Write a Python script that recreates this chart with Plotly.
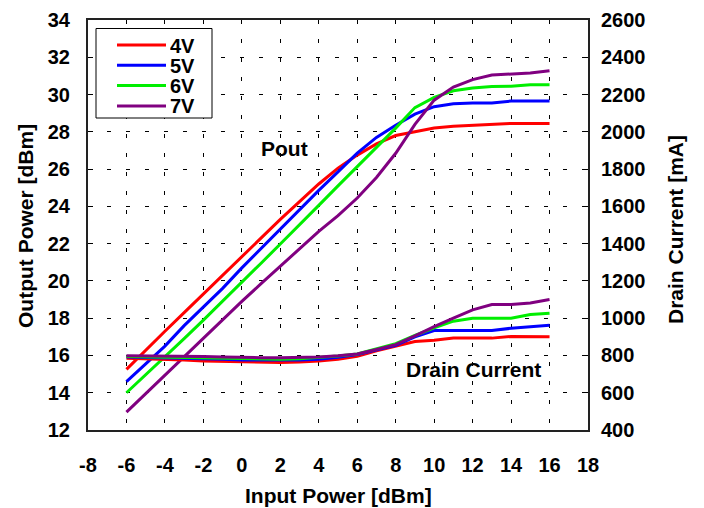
import plotly.graph_objects as go

pin = [-6, -5, -4, -3, -2, -1, 0, 1, 2, 3, 4, 5, 6, 7, 8, 9, 10, 11, 12, 13, 14, 15, 16]

pout_4v = [15.25, 16.3, 17.3, 18.3, 19.3, 20.35, 21.35, 22.35, 23.3, 24.25, 25.2, 26.05, 26.75, 27.35, 27.8, 28.0, 28.2, 28.3, 28.35, 28.4, 28.45, 28.45, 28.45]
pout_5v = [14.6, 15.55, 16.5, 17.6, 18.6, 19.6, 20.7, 21.75, 22.8, 23.85, 24.86, 25.85, 26.86, 27.7, 28.35, 28.95, 29.35, 29.5, 29.55, 29.55, 29.65, 29.65, 29.65]
pout_6v = [14.0, 14.95, 15.95, 16.9, 17.9, 18.9, 19.9, 20.95, 21.98, 23.0, 24.05, 25.1, 26.12, 27.15, 28.2, 29.3, 29.85, 30.2, 30.35, 30.43, 30.45, 30.52, 30.52]
pout_7v = [12.96, 13.95, 14.96, 15.95, 16.93, 17.9, 18.9, 19.85, 20.8, 21.75, 22.66, 23.5, 24.45, 25.55, 26.85, 28.4, 29.7, 30.4, 30.8, 31.05, 31.1, 31.15, 31.28]

id_4v = [785, 783, 780, 775, 770, 767, 764, 762, 762, 765, 770, 780, 795, 825, 850, 875, 882, 893, 893, 893, 902, 902, 900]
id_5v = [792, 790, 788, 785, 782, 779, 776, 775, 775, 776, 780, 790, 805, 830, 855, 900, 934, 934, 934, 934, 946, 955, 962]
id_6v = [795, 793, 791, 789, 786, 783, 780, 779, 780, 782, 788, 797, 808, 835, 863, 907, 948, 984, 1000, 1000, 1000, 1020, 1027]
id_7v = [798, 798, 797, 796, 795, 792, 789, 788, 788, 789, 792, 798, 808, 832, 858, 905, 955, 1000, 1045, 1073, 1073, 1082, 1100]

names = ["4V", "5V", "6V", "7V"]
colors = ["#ff0000", "#0000ff", "#00ee00", "#800080"]

x_ticks = list(range(-8, 19, 2))
y_ticks = list(range(12, 35, 2))
y2_ticks = list(range(400, 2601, 200))

FONT = "Liberation Sans, Arial, sans-serif"
OFF = 8  # browser body margin
W, H = 704 - OFF, 508 - OFF
ML, MR, MT, MB = 88 - OFF, 116, 20 - OFF, 78
PW, PH = W - ML - MR, H - MT - MB


def px(xs):
    # screen pixel x -> paper coordinate
    return (xs - OFF - ML) / PW


def py(ys):
    # screen pixel y -> paper coordinate
    return (H - MB - (ys - OFF)) / PH


fig = go.Figure()
for name, col, p in zip(names, colors, [pout_4v, pout_5v, pout_6v, pout_7v]):
    fig.add_trace(go.Scatter(x=pin, y=p, mode="lines", name=name, showlegend=False,
                             line=dict(color=col, width=3), yaxis="y"))
for name, col, c in zip(names, colors, [id_4v, id_5v, id_6v, id_7v]):
    fig.add_trace(go.Scatter(x=pin, y=c, mode="lines", name=name, showlegend=False,
                             line=dict(color=col, width=3), yaxis="y2"))

textfont = dict(family=FONT, size=21, color="black", weight="bold")
legfont = dict(family=FONT, size=20, color="black", weight="bold")

fig.add_annotation(x=2.2, y=27.1, xref="x", yref="y", text="Pout", showarrow=False, font=textfont)
fig.add_annotation(x=12.05, y=15.25, xref="x", yref="y", text="Drain Current", showarrow=False, font=textfont)

# axis titles
fig.add_annotation(x=px(338), y=py(496), xref="paper", yref="paper", text="Input Power [dBm]",
                   showarrow=False, font=textfont, xanchor="center", yanchor="middle")
fig.add_annotation(x=px(25), y=py(226), xref="paper", yref="paper", text="Output Power [dBm]",
                   showarrow=False, font=textfont, textangle=-90, xanchor="center", yanchor="middle")
fig.add_annotation(x=px(675), y=py(230), xref="paper", yref="paper", text="Drain Current [mA]",
                   showarrow=False, font=textfont, textangle=-90, xanchor="center", yanchor="middle")

# legend box
fig.add_shape(type="rect", xref="paper", yref="paper", x0=px(96), x1=px(212), y0=py(118), y1=py(28.5),
              line=dict(color="black", width=1), fillcolor="white", layer="above")
for i, (name, col) in enumerate(zip(names, colors)):
    yy = 45 + i * 20.3
    fig.add_shape(type="line", xref="paper", yref="paper", x0=px(117), x1=px(166), y0=py(yy), y1=py(yy),
                  line=dict(color=col, width=3), layer="above")
    fig.add_annotation(x=px(169), y=py(yy), xref="paper", yref="paper", text=name, showarrow=False,
                       font=legfont, xanchor="left", yanchor="middle", height=17, borderpad=0)

tickfont = dict(family=FONT, size=20, color="black", weight="bold")

fig.update_layout(
    width=W, height=H,
    margin=dict(l=ML, r=MR, t=MT, b=MB, autoexpand=False),
    paper_bgcolor="white", plot_bgcolor="white",
    showlegend=False,
    xaxis=dict(range=[-8, 18], tickvals=x_ticks, ticktext=[str(v) for v in x_ticks],
               showgrid=True, gridcolor="black", gridwidth=1, griddash="4px,15px",
               showline=True, linecolor="#222", linewidth=2, mirror=True,
               zeroline=False, ticks="", tickfont=tickfont, ticklabelstandoff=16,
               automargin=False),
    yaxis=dict(range=[12, 34], tickvals=y_ticks, ticktext=[str(v) for v in y_ticks],
               showgrid=True, gridcolor="black", gridwidth=1, griddash="4px,15px",
               showline=True, linecolor="#222", linewidth=2, mirror=True,
               zeroline=False, ticks="inside", ticklen=5, tickcolor="black",
               tickfont=tickfont, ticklabelstandoff=12, automargin=False),
    yaxis2=dict(range=[400, 2600], tickvals=y2_ticks, ticktext=[str(v) for v in y2_ticks],
                overlaying="y", side="right", showgrid=False, zeroline=False,
                showline=False, ticks="inside", ticklen=5, tickcolor="black",
                tickfont=tickfont, ticklabelstandoff=12, automargin=False),
)

fig.write_html("out.html")
